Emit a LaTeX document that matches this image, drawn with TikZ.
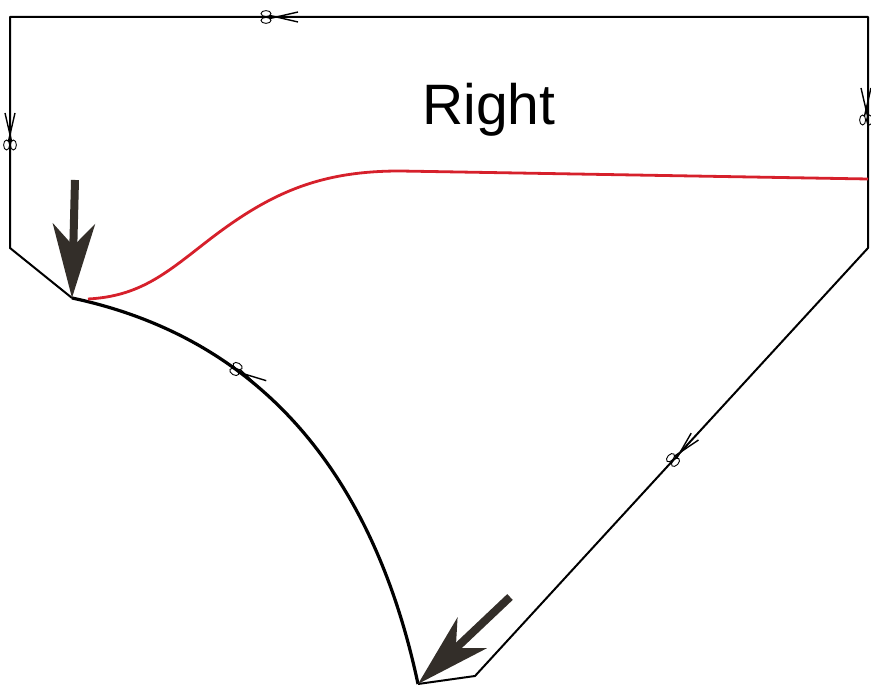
\documentclass[tikz,border=0pt]{standalone}
\usepackage{fontspec}
\setmainfont{Liberation Sans}
\usetikzlibrary{arrows.meta}
\definecolor{seamred}{HTML}{D6202B}
\definecolor{pointer}{HTML}{332E29}
\tikzset{cutline/.style={draw,line width=2pt,line join=round},seamcurve/.style={line width=3.2pt},redline/.style={draw=seamred,line width=2.8pt},bigarrow/.style={draw=pointer,line width=8pt,-{Stealth[length=74pt,width=42pt,inset=22pt,fill=pointer]}},scissors/.pic={\draw[line width=0.9pt] (0,3.4) ellipse (5 and 3) (0,-3.4) ellipse (5 and 3);\draw[line width=1.4pt] (3.5,1.6) -- (32,-5) (3.5,-1.6) -- (32,5);}}
\begin{document}
\begin{tikzpicture}[x=1pt,y=1pt]
\useasboundingbox (0,0) rectangle (871,688);
\coordinate (tl) at (10,671);\coordinate (tr) at (868,671);\coordinate (rb) at (868,440);\coordinate (br) at (475,12);\coordinate (bot) at (418,4);\coordinate (lb) at (10,440);\coordinate (crotch) at (72,390);
\coordinate (r0) at (88,389);\coordinate (r1) at (205,445);\coordinate (r2) at (400,517);\coordinate (r3) at (868,509);
\draw[cutline] (crotch) -- (lb) -- (tl) -- (tr) -- (rb) -- (br) -- (bot);
\draw[cutline,seamcurve] (crotch) to[out=-12,in=102] (bot);
\draw[redline] (r0) to[out=3,in=218] (r1) to[out=38,in=180] (r2) -- (r3);
\node[font=\fontsize{57}{60}\selectfont,anchor=base] (title) at (489,563) {Right};
\pic at (266,671) {scissors};\pic[rotate=90] at (10,543) {scissors};\pic[rotate=90] at (866,568) {scissors};\pic[rotate=-30] at (236,319) {scissors};\pic[rotate=47] at (673,228) {scissors};
\coordinate (a1) at (75,508);\coordinate (a2) at (510,91);
\draw[bigarrow] (a1) -- (crotch);\draw[bigarrow] (a2) -- (bot);
\end{tikzpicture}
\end{document}
